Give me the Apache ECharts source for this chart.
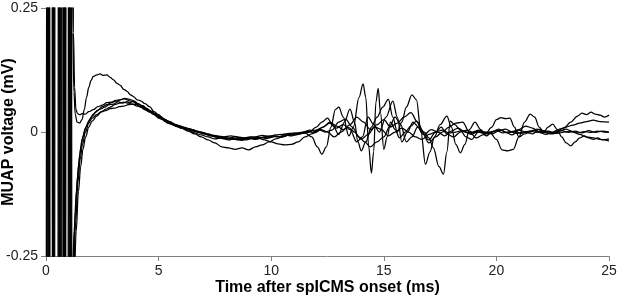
<!DOCTYPE html>
<html>
<head>
<meta charset="utf-8">
<script src="https://cdn.jsdelivr.net/npm/echarts@6/dist/echarts.min.js"></script>
<style>
  html, body { margin: 0; padding: 0; background: #fff; }
  #chart_muap { width: 617px; height: 299px; }
</style>
</head>
<body>
<div id="chart_muap"></div>
<script>
// tick values of the axes
var x_ticks = [0, 5, 10, 15, 20, 25];
var y_ticks = [-0.25, 0, 0.25];

// traces: [time (ms), voltage (mV)], stimulus artefact goes off scale first
var trace_a = [
    [0, -1], [0.01, -1], [0.05, 1], [0.26, 1], [0.30, -1], [0.52, -1], [0.56, 1], [0.74, 1], [0.78, -1], [0.97, -1], [1.01, 1],
    [1.13, 1], [1.19, 0.2], [1.24, 0.08], [1.3, 0.035], [1.38, 0.02], [1.5, 0.018], [1.6, 0.025], [1.7, 0.045], [1.8, 0.07],
    [1.9, 0.09], [2.0, 0.104], [2.1, 0.112], [2.25, 0.115], [2.4, 0.117], [2.55, 0.114], [2.7, 0.115], [2.85, 0.11], [3.0, 0.105],
    [3.15, 0.098], [3.3, 0.094], [3.45, 0.086], [3.6, 0.082], [3.75, 0.075], [3.9, 0.071], [4.05, 0.065], [4.2, 0.063], [4.4, 0.057],
    [4.6, 0.051], [4.8, 0.041], [5.0, 0.035], [5.2, 0.027], [5.4, 0.022], [5.6, 0.016], [5.8, 0.014], [6.0, 0.009], [6.3, 0.007],
    [6.6, 0.002], [6.9, 0.0], [7.2, -0.004], [7.5, -0.009], [7.8, -0.01], [8.1, -0.013], [8.4, -0.01], [8.7, -0.013], [9.0, -0.011],
    [9.3, -0.01], [9.6, -0.007], [9.9, -0.009], [10.2, -0.006], [10.5, -0.005], [10.8, -0.003], [11.1, -0.002], [11.4, 0.0],
    [11.7, 0.002], [12.0, 0.004], [12.3, 0.01], [12.6, 0.02], [12.9, 0.012], [13.2, 0.005], [13.5, 0.015], [13.8, 0.03], [14.1, 0.02],
    [14.4, 0.005], [14.7, 0.015], [15.0, 0.025], [15.3, 0.01], [15.6, 0.018], [15.9, 0.03], [16.2, 0.039], [16.5, 0.02], [16.8, -0.005],
    [17.1, 0.005], [17.4, 0.0], [17.7, -0.008], [18.0, 0.002], [18.3, 0.008], [18.6, 0.0], [18.9, -0.005], [19.2, 0.004], [19.5, 0.0],
    [19.8, -0.004], [20.1, 0.002], [20.4, 0.006], [20.7, 0.0], [21.0, 0.005], [21.3, 0.012], [21.6, 0.008], [21.9, 0.0], [22.2, -0.005],
    [22.5, 0.0], [22.8, 0.006], [23.1, 0.01], [23.4, 0.014], [23.7, 0.018], [24.0, 0.021], [24.3, 0.024], [24.6, 0.021], [25.0, 0.02]
];
var trace_b = [
    [0, -1], [0.04, -1], [0.08, 1], [0.28, 1], [0.32, -1], [0.55, -1], [0.59, 1], [0.76, 1], [0.80, -1], [1.00, -1], [1.04, 1],
    [1.16, 1], [1.22, 0.2], [1.27, 0.09], [1.33, 0.045], [1.4, 0.037], [1.5, 0.035], [1.6, 0.037], [1.75, 0.036], [1.9, 0.041],
    [2.1, 0.045], [2.3, 0.051], [2.5, 0.054], [2.7, 0.059], [2.9, 0.06], [3.1, 0.064], [3.3, 0.065], [3.5, 0.067], [3.7, 0.063],
    [3.9, 0.061], [4.1, 0.056], [4.3, 0.053], [4.5, 0.046], [4.7, 0.041], [4.9, 0.034], [5.1, 0.031], [5.3, 0.024], [5.5, 0.021],
    [5.7, 0.016], [5.9, 0.013], [6.2, 0.008], [6.5, 0.005], [6.8, 0.0], [7.1, -0.004], [7.4, -0.007], [7.7, -0.01], [8.0, -0.012],
    [8.3, -0.015], [8.6, -0.013], [8.9, -0.016], [9.2, -0.012], [9.5, -0.011], [9.8, -0.013], [10.1, -0.008], [10.4, -0.01],
    [10.7, -0.006], [11.0, -0.004], [11.3, -0.002], [11.6, 0.002], [11.9, -0.002], [12.2, 0.005], [12.5, 0.0], [12.8, -0.01],
    [13.1, 0.0], [13.4, 0.01], [13.7, 0.0], [14.0, -0.015], [14.3, -0.005], [14.6, 0.01], [14.9, 0.005], [15.2, -0.008], [15.5, 0.0],
    [15.8, 0.008], [16.1, 0.0], [16.4, -0.01], [16.7, -0.015], [17.0, -0.005], [17.3, 0.0], [17.6, 0.004], [17.9, -0.002], [18.2, 0.0],
    [18.5, 0.003], [18.8, -0.002], [19.1, 0.002], [19.4, -0.001], [19.7, 0.0], [20.0, 0.003], [20.3, -0.002], [20.6, 0.001],
    [20.9, -0.003], [21.2, 0.0], [21.5, 0.002], [21.8, -0.001], [22.1, 0.003], [22.4, 0.0], [22.7, -0.003], [23.0, 0.0], [23.3, 0.002],
    [23.6, -0.002], [23.9, 0.001], [24.2, -0.001], [24.5, 0.002], [24.8, 0.0], [25.0, -0.001]
];
var trace_c = [
    [0, 1], [0.07, 1], [0.11, -1], [0.30, -1], [0.34, 1], [0.58, 1], [0.62, -1], [0.79, -1], [0.83, 1], [1.03, 1], [1.07, -1],
    [1.1, -1], [1.17, -0.3], [1.25, -0.2], [1.35, -0.12], [1.45, -0.065], [1.55, -0.03], [1.65, -0.008], [1.8, 0.012], [1.95, 0.026],
    [2.1, 0.036], [2.3, 0.044], [2.5, 0.051], [2.7, 0.055], [2.9, 0.059], [3.1, 0.062], [3.3, 0.065], [3.5, 0.068], [3.7, 0.066],
    [3.9, 0.063], [4.1, 0.057], [4.3, 0.051], [4.5, 0.045], [4.7, 0.039], [4.9, 0.033], [5.1, 0.027], [5.3, 0.021], [5.5, 0.017],
    [5.8, 0.011], [6.1, 0.008], [6.4, 0.003], [6.7, 0.0], [7.0, -0.004], [7.3, -0.008], [7.6, -0.011], [7.9, -0.014], [8.2, -0.012],
    [8.5, -0.016], [8.8, -0.014], [9.1, -0.012], [9.4, -0.014], [9.7, -0.01], [10.0, -0.008], [10.3, -0.01], [10.6, -0.006],
    [10.9, -0.008], [11.2, -0.004], [11.5, -0.002], [11.8, -0.01], [12.05, -0.03], [12.25, -0.045], [12.45, -0.03], [12.65, 0.01],
    [12.85, 0.045], [13.0, 0.05], [13.2, 0.03], [13.45, -0.008], [13.65, 0.01], [13.9, 0.07], [14.08, 0.097], [14.2, 0.07],
    [14.33, -0.03], [14.45, -0.083], [14.55, -0.04], [14.65, 0.06], [14.75, 0.088], [14.85, 0.04], [15.0, -0.035], [15.15, -0.01],
    [15.3, 0.02], [15.5, 0.005], [15.7, -0.012], [15.95, 0.0], [16.2, 0.012], [16.45, 0.022], [16.7, 0.0], [17.0, -0.016], [17.3, 0.0],
    [17.55, 0.01], [17.8, -0.004], [18.1, -0.01], [18.4, 0.0], [18.7, 0.004], [19.0, -0.002], [19.3, 0.002], [19.6, -0.004],
    [19.9, 0.001], [20.2, 0.004], [20.5, -0.002], [20.8, 0.002], [21.1, -0.003], [21.4, 0.001], [21.7, 0.004], [22.0, -0.002],
    [22.3, 0.002], [22.6, -0.003], [22.9, 0.003], [23.2, -0.001], [23.5, 0.002], [23.8, -0.002], [24.1, 0.003], [24.4, -0.001],
    [24.7, 0.002], [25.0, 0.0]
];
var trace_d = [
    [0, 1], [0.10, 1], [0.14, -1], [0.32, -1], [0.36, 1], [0.61, 1], [0.65, -1], [0.81, -1], [0.85, 1], [1.06, 1], [1.10, -1],
    [1.12, -1], [1.2, -0.28], [1.3, -0.16], [1.4, -0.09], [1.5, -0.045], [1.6, -0.015], [1.75, 0.008], [1.9, 0.022], [2.05, 0.032],
    [2.2, 0.04], [2.4, 0.046], [2.6, 0.05], [2.8, 0.055], [3.0, 0.056], [3.2, 0.061], [3.4, 0.058], [3.6, 0.061], [3.8, 0.056],
    [4.0, 0.055], [4.2, 0.05], [4.4, 0.045], [4.6, 0.04], [4.8, 0.035], [5.0, 0.028], [5.2, 0.025], [5.4, 0.018], [5.7, 0.014],
    [6.0, 0.008], [6.3, 0.004], [6.6, -0.002], [6.9, -0.006], [7.2, -0.01], [7.5, -0.014], [7.8, -0.012], [8.1, -0.016], [8.4, -0.014],
    [8.7, -0.017], [9.0, -0.013], [9.3, -0.015], [9.6, -0.011], [9.9, -0.012], [10.2, -0.009], [10.5, -0.01], [10.8, -0.006],
    [11.1, -0.006], [11.4, -0.003], [11.7, 0.0], [12.0, 0.01], [12.25, 0.02], [12.5, 0.028], [12.75, 0.012], [13.0, -0.005],
    [13.25, 0.02], [13.5, 0.046], [13.7, 0.02], [13.85, -0.02], [14.0, -0.038], [14.2, -0.02], [14.45, 0.01], [14.7, 0.03],
    [14.95, 0.05], [15.2, 0.066], [15.4, 0.03], [15.6, 0.0], [15.8, 0.02], [16.0, 0.05], [16.25, 0.075], [16.45, 0.065], [16.65, 0.0],
    [16.85, -0.065], [17.05, -0.04], [17.25, -0.01], [17.5, 0.015], [17.8, 0.032], [18.0, 0.01], [18.2, -0.025], [18.4, -0.042],
    [18.6, -0.025], [18.8, 0.005], [19.05, 0.02], [19.3, 0.005], [19.55, -0.008], [19.8, 0.0], [20.1, 0.006], [20.4, 0.0],
    [20.7, -0.006], [21.0, 0.004], [21.3, 0.0], [21.6, -0.004], [21.9, 0.006], [22.2, 0.0], [22.5, -0.004], [22.8, 0.002],
    [23.1, 0.006], [23.4, 0.0], [23.7, -0.005], [24.0, -0.01], [24.3, -0.012], [24.6, -0.015], [25.0, -0.018]
];
var trace_e = [
    [0, 1], [0.13, 1], [0.17, -1], [0.34, -1], [0.38, 1], [0.64, 1], [0.68, -1], [0.84, -1], [0.88, 1], [1.09, 1], [1.13, -1],
    [1.15, -1], [1.22, -0.3], [1.32, -0.18], [1.42, -0.1], [1.52, -0.055], [1.62, -0.025], [1.75, 0.0], [1.9, 0.018], [2.05, 0.028],
    [2.25, 0.035], [2.45, 0.041], [2.65, 0.043], [2.85, 0.047], [3.05, 0.048], [3.25, 0.051], [3.45, 0.052], [3.65, 0.055],
    [3.85, 0.056], [4.05, 0.052], [4.25, 0.051], [4.45, 0.044], [4.65, 0.041], [4.85, 0.036], [5.05, 0.03], [5.25, 0.025], [5.45, 0.02],
    [5.7, 0.014], [6.0, 0.008], [6.3, 0.002], [6.6, -0.004], [6.9, -0.01], [7.2, -0.016], [7.5, -0.022], [7.8, -0.03], [8.1, -0.032],
    [8.4, -0.035], [8.7, -0.032], [9.0, -0.036], [9.3, -0.03], [9.6, -0.026], [9.9, -0.02], [10.2, -0.014], [10.5, -0.01],
    [10.8, -0.006], [11.1, -0.004], [11.4, -0.002], [11.7, 0.004], [12.0, 0.0], [12.3, 0.01], [12.6, 0.018], [12.9, 0.008],
    [13.2, 0.015], [13.5, 0.005], [13.8, -0.02], [14.05, -0.01], [14.3, 0.03], [14.55, 0.015], [14.8, 0.0], [15.1, 0.03], [15.4, 0.062],
    [15.6, 0.03], [15.8, -0.02], [16.05, 0.0], [16.3, 0.02], [16.55, 0.01], [16.8, 0.0], [17.0, -0.012], [17.2, -0.032], [17.45, -0.07],
    [17.65, -0.085], [17.8, -0.04], [17.95, 0.022], [18.15, 0.015], [18.4, 0.004], [18.65, -0.01], [18.9, -0.015], [19.2, 0.0],
    [19.5, -0.004], [19.8, 0.01], [20.0, 0.025], [20.2, 0.029], [20.4, 0.027], [20.6, 0.028], [20.8, 0.01], [21.0, -0.01],
    [21.25, -0.004], [21.5, 0.0], [21.8, 0.006], [22.1, 0.0], [22.4, -0.004], [22.7, 0.002], [23.0, 0.008], [23.3, 0.02], [23.6, 0.032],
    [23.8, 0.038], [24.0, 0.035], [24.2, 0.04], [24.4, 0.036], [24.6, 0.034], [24.8, 0.03], [25.0, 0.034]
];
var trace_f = [
    [0, 1], [0.15, 1], [0.19, -1], [0.37, -1], [0.41, 1], [0.68, 1], [0.72, -1], [0.86, -1], [0.90, 1], [1.12, 1], [1.16, -1],
    [1.18, -1], [1.24, -0.32], [1.34, -0.2], [1.44, -0.12], [1.54, -0.07], [1.64, -0.035], [1.76, -0.01], [1.9, 0.01], [2.05, 0.022],
    [2.25, 0.032], [2.45, 0.04], [2.65, 0.046], [2.85, 0.05], [3.05, 0.055], [3.25, 0.058], [3.45, 0.06], [3.65, 0.058], [3.85, 0.061],
    [4.05, 0.056], [4.25, 0.053], [4.45, 0.048], [4.65, 0.042], [4.85, 0.037], [5.05, 0.03], [5.25, 0.026], [5.5, 0.02], [5.8, 0.014],
    [6.1, 0.01], [6.4, 0.006], [6.7, 0.002], [7.0, -0.002], [7.3, -0.006], [7.6, -0.008], [7.9, -0.01], [8.2, -0.008], [8.5, -0.01],
    [8.8, -0.012], [9.1, -0.01], [9.4, -0.012], [9.7, -0.016], [10.0, -0.02], [10.3, -0.024], [10.6, -0.026], [10.9, -0.025],
    [11.2, -0.02], [11.5, -0.01], [11.8, -0.004], [12.1, 0.005], [12.4, 0.0], [12.7, 0.004], [13.0, 0.02], [13.3, 0.026], [13.6, 0.01],
    [13.9, -0.01], [14.15, -0.02], [14.4, -0.03], [14.7, -0.02], [15.0, -0.01], [15.25, 0.01], [15.5, 0.03], [15.75, 0.015],
    [16.0, -0.02], [16.25, -0.01], [16.5, 0.01], [16.75, -0.005], [17.0, -0.022], [17.3, -0.01], [17.6, 0.0], [17.9, 0.01],
    [18.2, 0.018], [18.5, 0.02], [18.8, 0.0], [19.1, -0.012], [19.4, -0.006], [19.7, 0.0], [20.0, -0.015], [20.25, -0.036],
    [20.5, -0.038], [20.75, -0.035], [21.0, -0.01], [21.25, 0.02], [21.5, 0.036], [21.7, 0.03], [21.9, 0.01], [22.1, 0.0], [22.3, 0.01],
    [22.5, 0.016], [22.7, 0.005], [22.9, -0.01], [23.1, -0.022], [23.3, -0.028], [23.5, -0.02], [23.7, -0.012], [23.9, -0.008],
    [24.1, -0.012], [24.3, -0.015], [24.5, -0.012], [24.7, -0.016], [25.0, -0.014]
];

var all_traces = [trace_a, trace_b, trace_c, trace_d, trace_e, trace_f];

var chart_muap = echarts.init(document.getElementById('chart_muap'));

var series = all_traces.map(function (trace) {
    return {
        type: 'line',
        data: trace,
        showSymbol: false,
        clip: true,
        smooth: 0.35,
        smoothMonotone: 'x',
        lineStyle: { color: '#000', width: 1.25 }
    };
});

var option = {
    animation: false,
    grid: { left: 46, right: 8, top: 8, bottom: 43, containLabel: false, outerBoundsMode: 'none' },
    xAxis: {
        type: 'value',
        min: x_ticks[0],
        max: x_ticks[x_ticks.length - 1],
        interval: 5,
        name: 'Time after spICMS onset (ms)',
        nameLocation: 'middle',
        nameGap: 24,
        nameMoveOverlap: false,
        nameTextStyle: { fontFamily: 'Liberation Sans', fontSize: 16, fontWeight: 'bold', color: '#000' },
        axisLine: { onZero: false, lineStyle: { color: '#808080', width: 1 } },
        axisTick: { show: true, length: 5, lineStyle: { color: '#808080' } },
        axisLabel: { margin: 8, fontFamily: 'Liberation Sans', fontSize: 14, color: '#222' },
        splitLine: { show: false }
    },
    yAxis: {
        type: 'value',
        min: y_ticks[0],
        max: y_ticks[y_ticks.length - 1],
        interval: 0.25,
        name: 'MUAP voltage (mV)',
        nameLocation: 'middle',
        nameGap: 29,
        nameMoveOverlap: false,
        nameTextStyle: { fontFamily: 'Liberation Sans', fontSize: 16, fontWeight: 'bold', color: '#000' },
        axisLine: { show: true, onZero: false, lineStyle: { color: '#808080', width: 1 } },
        axisTick: { show: true, length: 5, lineStyle: { color: '#808080' } },
        axisLabel: { margin: 8, fontFamily: 'Liberation Sans', fontSize: 14, color: '#222' },
        splitLine: { show: false }
    },
    series: series
};

chart_muap.setOption(option);
</script>
</body>
</html>
